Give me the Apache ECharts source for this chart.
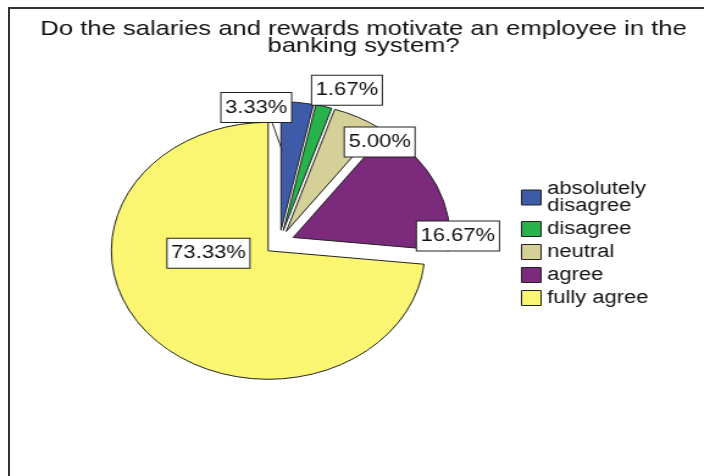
<!DOCTYPE html>
<html>
<head>
<meta charset="utf-8">
<script src="https://cdn.jsdelivr.net/npm/echarts@6/dist/echarts.min.js"></script>
<style>
  body { margin: 0; background: #fff; }
  #wrap { position: relative; width: 704px; height: 476px; overflow: hidden; background: #fff; }
  #frame { position: absolute; left: 8px; top: 7px; width: 800px; height: 600px;
           border-left: 2px solid #333; border-top: 2px solid #333; }
  /* the source picture is stretched sideways, so draw narrow and scale */
  #chart { position: absolute; left: 0; top: 0; width: 577px; height: 476px;
           transform: scaleX(1.22); transform-origin: 0 0; }
</style>
</head>
<body>
<div id="wrap">
  <div id="frame"></div>
  <div id="chart"></div>
</div>
<script>
// answers to the survey question (counts of respondents)
const categories = ['absolutely disagree', 'disagree', 'neutral', 'agree', 'fully agree'];
const counts = [2, 1, 3, 10, 44];
const titleLines = ['Do the salaries and rewards motivate an employee in the', 'banking system?'];

const sliceColors = ['#3d5ba9', '#27b24b', '#d5cf98', '#7c2a7c', '#fbf672'];
const fontFamily = '"Liberation Sans", Arial, sans-serif';

// pie geometry (unscaled chart pixels)
let cx = 229, cy = 242.5, R = 128.5, explode = 12.4;
// where SPSS put each label box: [angle from 12 o'clock, fraction of radius]
let labelSpots = [[352, 1.06], [20, 1.26], [39.3, 1.01], [87.5, 1.14], [259.5, 0.46]];

let chart = echarts.init(document.getElementById('chart'));

let total = counts.reduce((a, b) => a + b, 0);

let pieData = categories.map((name, i) => {
    return {
        name: name,
        value: counts[i],
        selected: true,
        itemStyle: { color: sliceColors[i] }
    };
});

function spot(i) {
    let a = labelSpots[i][0] * Math.PI / 180;
    let r = labelSpots[i][1] * R;
    return [cx + r * Math.sin(a), cy - r * Math.cos(a)];
}

// percentage boxes
let labelBoxes = counts.map((c, i) => {
    let p = spot(i);
    return {
        type: 'text',
        silent: true,
        z: 10,
        style: {
            text: (c / total * 100).toFixed(2) + '%',
            x: p[0],
            y: p[1],
            align: 'center',
            verticalAlign: 'middle',
            fill: '#111',
            font: '18px ' + fontFamily,
            lineHeight: 22,
            backgroundColor: '#fff',
            borderColor: '#222',
            borderWidth: 1,
            padding: [4, 3, 3, 3]
        }
    };
});

// leader from the first (blue) slice up to its box
let p0 = spot(0);
let a0 = (counts[0] / total) * Math.PI;   // mid angle of the first slice
let sx = cx + explode * Math.sin(a0) + 1;
let sy = cy - explode * Math.cos(a0) - 0.62 * R;
let lx = p0[0] + 13, ly = p0[1] + 15;
let leader = {
    type: 'polyline',
    silent: true,
    z: 9,
    shape: { points: [[sx, sy], [lx, ly]] },
    style: { stroke: '#333', lineWidth: 1, fill: null }
};

let option = {
    backgroundColor: 'transparent',
    animation: false,
    textStyle: { fontFamily: fontFamily },
    title: {
        text: titleLines.join('\n'),
        left: 298,
        top: 21,
        padding: 0,
        textAlign: 'center',
        textStyle: {
            fontSize: 21,
            fontWeight: 'normal',
            color: '#111',
            lineHeight: 16.5,
            fontFamily: fontFamily
        }
    },
    legend: {
        orient: 'vertical',
        left: 427,
        top: 180,
        padding: 0,
        icon: 'rect',
        itemWidth: 16,
        itemHeight: 15,
        itemGap: 5,
        selectedMode: false,
        data: categories,
        itemStyle: { borderColor: '#222', borderWidth: 1 },
        textStyle: {
            fontSize: 18,
            lineHeight: 17,
            color: '#111',
            width: 90,
            overflow: 'break',
            fontFamily: fontFamily
        }
    },
    graphic: [leader].concat(labelBoxes),
    series: [{
        type: 'pie',
        center: [cx, cy],
        radius: R,
        startAngle: 90,
        clockwise: true,
        selectedMode: 'multiple',
        selectedOffset: explode,
        silent: true,
        emphasis: { disabled: true },
        itemStyle: { borderColor: '#222', borderWidth: 1 },
        label: { show: false },
        labelLine: { show: false },
        data: pieData
    }]
};

chart.setOption(option);
</script>
</body>
</html>
